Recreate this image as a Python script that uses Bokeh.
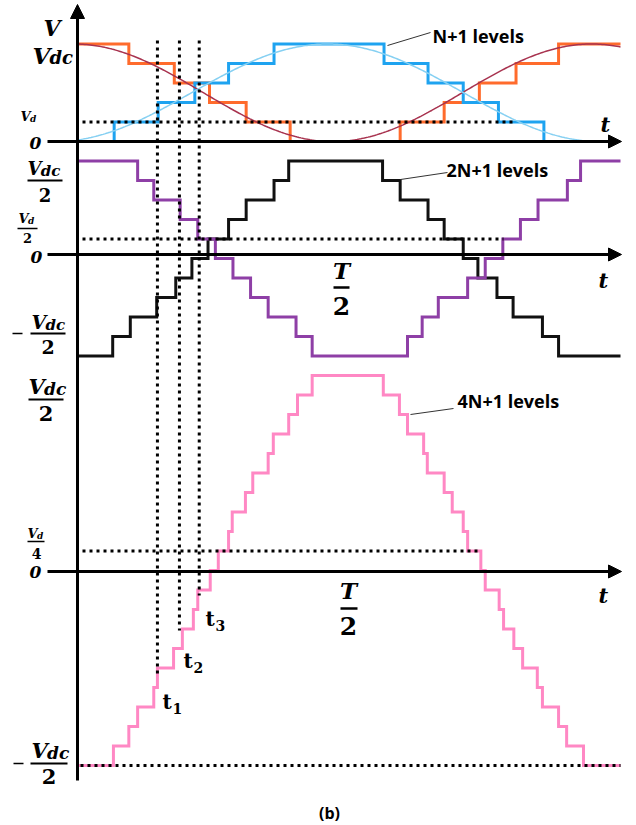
from bokeh.plotting import figure
from bokeh.models import Range1d, Arrow, NormalHead
from bokeh.core.properties import value
from bokeh.embed import file_html
from bokeh.resources import INLINE
import numpy as np

# ------------------------------------------------------------------ data
# time axis in electrical degrees (T = 360), voltage in level units
N = 5
# panel 1 : N+1 levels
orange_switch = [35, 66, 90, 115, 145, 220, 250, 274, 299, 328]
orange_levels = [5, 4, 3, 2, 1, 0, 1, 2, 3, 4, 5]
blue_switch = [25, 55, 80, 103, 134, 209, 239, 263, 287, 318]
blue_levels = [0, 1, 2, 3, 4, 5, 4, 3, 2, 1, 0]
# panel 2 : 2N+1 levels
black_switch = [24, 36, 54, 67, 78, 89, 103, 115, 134, 144,
                208, 220, 239, 250, 263, 273, 286, 297, 317, 328]
black_levels = [-5, -4, -3, -2, -1, 0, 1, 2, 3, 4, 5,
                4, 3, 2, 1, 0, -1, -2, -3, -4, -5]
purple_switch = [41, 52, 70, 82, 94, 106, 118, 130, 149, 160,
                 225, 235, 246, 266, 278, 290, 302, 314, 334, 343]
purple_levels = [5, 4, 3, 2, 1, 0, -1, -2, -3, -4, -5,
                 -4, -3, -2, -1, 0, 1, 2, 3, 4, 5]
# panel 3 : 4N+1 levels
pink_switch = [24.5, 35, 41, 52, 54.5, 65.5, 71.5, 79, 82, 90.5,
               96, 103, 105.5, 114.5, 119.5, 130, 133.5, 144, 150, 160,
               208.5, 219.5, 225, 236, 238.5, 250, 255.5, 263, 266, 275,
               278, 287.5, 290.5, 297.5, 303.5, 313.5, 317, 328, 333.5, 345]
pink_levels = list(range(-10, 11)) + list(range(9, -11, -1))
# switching instants marked t1, t2, t3
t_marks = [54.5, 69.5, 83]
t_names = ["1", "2", "3"]

# ------------------------------------------------------------------ layout
PX_DEG = 264 / 180.0   # pixels per degree
PX_LVL = 19.5          # pixels per level
X0_PX, Y0_PX = 77, 141
W, H = 636, 825


def tx(px):
    return (px - X0_PX) / PX_DEG


def ty(py):
    return (Y0_PX - py) / PX_LVL


OFF1, OFF2, OFF3 = 0, -6, -22
END = tx(620)

p = figure(width=W, height=H, output_backend="svg", toolbar_location=None,
           x_range=Range1d(tx(0), tx(W)), y_range=Range1d(ty(H), ty(0)),
           x_axis_type=None, y_axis_type=None, min_border=0)
p.outline_line_color = None
p.grid.visible = False
p.background_fill_color = "white"
p.border_fill_color = "white"

SERIF = value("DejaVu Serif")
SANS = value("Open Sans")


def stair(sw, lv, end, off, color, width=3):
    xs = [0] + list(sw) + [end]
    ys = [l + off for l in lv] + [lv[-1] + off]
    p.step(xs, ys, mode="after", line_color=color, line_width=width,
           line_join="miter")


def txt(s, px, py, size, style="bold italic", font=SERIF, align="left",
        baseline="alphabetic", color="black"):
    # py is the glyph baseline unless baseline == "middle"
    yc = py if baseline == "middle" else py - 0.32 * size
    p.text(x=[tx(px)], y=[ty(yc)], text=[s], text_font=font,
           text_font_size=value(f"{size}px"), text_font_style=style,
           text_align=align, text_baseline="middle", text_color=color)


def hline(px0, px1, py, width=2.5, color="black"):
    p.segment(x0=[tx(px0)], y0=[ty(py)], x1=[tx(px1)], y1=[ty(py)],
              line_width=width, line_color=color)


DOT = "3 4"
DOT_W = 3

# ---- axes
for py in [141, 254, 571]:
    p.add_layout(Arrow(end=NormalHead(size=13, fill_color="black", line_color="black"),
                       x_start=tx(47), y_start=ty(py), x_end=tx(621), y_end=ty(py),
                       line_width=3, line_color="black"))
p.add_layout(Arrow(end=NormalHead(size=14, fill_color="black", line_color="black"),
                   x_start=0, y_start=ty(780), x_end=0, y_end=ty(4),
                   line_width=3, line_color="black"))

# ---- panel 1
stair(orange_switch, orange_levels, END, OFF1, "#FF6B2C")
stair(blue_switch, blue_levels, tx(580), OFF1, "#1EA3F0")
xr = np.linspace(0, END, 300)
p.line(xr, OFF1 + 2.5 + 2.5 * np.cos(2 * np.pi * (xr + 2.4) / 353),
       line_color="#A8334F", line_width=1.5)
xb = np.linspace(0, tx(585), 300)
p.line(xb, OFF1 + 2.5 - 2.5 * np.cos(2 * np.pi * (xb + 15) / 371),
       line_color="#86D0F2", line_width=1.5)

# ---- panel 2
stair(black_switch, black_levels, END, OFF2, "#111111")
stair(purple_switch, purple_levels, END, OFF2, "#8E3FA6")

# ---- panel 3
stair(pink_switch, pink_levels, END, OFF3, "#FF88C4")

# ---- dotted reference lines
p.segment(x0=[tx(82)], y0=[OFF1 + 1], x1=[tx(512)], y1=[OFF1 + 1],
          line_dash=DOT, line_width=DOT_W, line_color="black")
p.segment(x0=[tx(82)], y0=[OFF2 + 1], x1=[tx(503)], y1=[OFF2 + 1],
          line_dash=DOT, line_width=DOT_W, line_color="black")
p.segment(x0=[tx(82)], y0=[OFF3 + 1], x1=[tx(480)], y1=[OFF3 + 1],
          line_dash=DOT, line_width=DOT_W, line_color="black")
p.segment(x0=[tx(80)], y0=[OFF3 - 10], x1=[END], y1=[OFF3 - 10],
          line_dash=DOT, line_width=DOT_W, line_color="black")
t_ends = [677, 630, 595]
p.segment(x0=t_marks, y0=[ty(40)] * 3, x1=t_marks, y1=[ty(v) for v in t_ends],
          line_dash=DOT, line_width=DOT_W, line_color="black")

# ---- leader lines & annotations
p.segment(x0=[tx(430), tx(447), tx(453)], y0=[ty(32), ty(172), ty(408)],
          x1=[tx(387), tx(400), tx(410)], y1=[ty(45), ty(179), ty(414)],
          line_width=1, line_color="#333333")
txt("N+1 levels", 432, 35, 18, style="bold", font=SANS, baseline="middle")
txt("2N+1 levels", 446, 169, 18, style="bold", font=SANS, baseline="middle")
txt("4N+1 levels", 457, 400, 18, style="bold", font=SANS, baseline="middle")
txt("(b)", 329, 812, 16, style="bold", font=SANS, align="center", baseline="middle")


def vsub(left, base, vs, sub, ss):
    txt("V", left, base, vs)
    txt(sub, left + vs * 0.74, base + 1, ss)


# ---- panel 1 labels
txt("V", 43, 35, 22)
vsub(32, 62, 23, "dc", 18)
vsub(20, 120, 13, "d", 9)
txt("0", 35, 148, 17, align="center")
txt("t", 600, 131, 21)


def frac_vdc(left, base, vs, ds, bar_y, bar_x0, bar_x1, two_base, two_size, bw=2):
    vsub(left, base, vs, "dc", ds)
    hline(bar_x0, bar_x1, bar_y, width=bw)
    txt("2", (bar_x0 + bar_x1) / 2, two_base, two_size, style="bold", align="center")


# ---- panel 2 labels
frac_vdc(27, 174, 18, 15, 180, 27, 62, 200, 18)
vsub(18, 222, 13, "d", 9)
hline(17, 37, 228, width=1.5)
txt("2", 27, 242, 13, style="bold", align="center")
txt("0", 36, 262, 17, align="center")
hline(12, 22, 333, width=1.5)
frac_vdc(31, 328, 19, 15, 333, 30, 65, 353, 19)
txt("T", 341, 277, 23, align="center")
hline(333, 349, 287, width=2.5)
txt("2", 341, 313, 25, style="bold", align="center")
txt("t", 598, 287, 21)

# ---- panel 3 labels
frac_vdc(28, 393, 21, 17, 399, 28, 63, 420, 21)
vsub(27, 537, 13, "d", 9)
hline(27, 44, 541, width=1.5)
txt("4", 36, 557, 14, style="bold", align="center")
txt("0", 35, 577, 17, align="center")
hline(13, 23, 763, width=1.5)
frac_vdc(31, 757, 21, 17, 763, 30, 67, 783, 21)
txt("T", 348, 597, 23, align="center")
hline(340, 357, 608, width=2.5)
txt("2", 348, 633, 25, style="bold", align="center")
txt("t", 598, 602, 21)

for name, lx, base in zip(t_names, [162, 183, 205], [708, 667, 625]):
    txt("t", lx, base, 20, style="bold")
    txt(name, lx + 10, base + 4, 14, style="bold")

open("out.html", "w").write(file_html(p, INLINE))
